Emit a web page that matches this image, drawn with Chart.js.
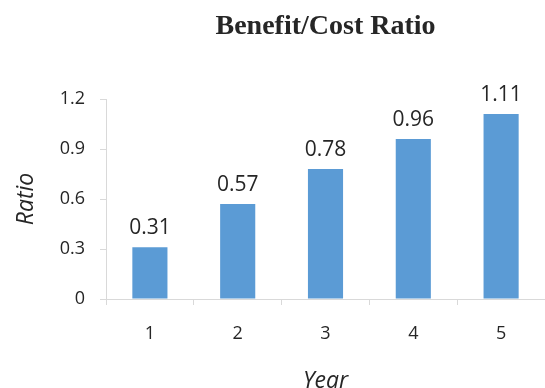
<!DOCTYPE html>
<html>
<head>
<meta charset="utf-8">
<script src="https://cdn.jsdelivr.net/npm/chart.js@4/dist/chart.umd.min.js"></script>
<style>
  html, body { margin: 0; padding: 0; background: #ffffff; }
  #wrap { width: 545px; height: 388px; }
</style>
</head>
<body>
<div id="wrap"><canvas id="c" width="545" height="388"></canvas></div>
<script>
// Benefit/cost ratio by project year
const years = ['1', '2', '3', '4', '5'];
const ratios = [0.31, 0.57, 0.78, 0.96, 1.11];
const yTickValues = [0, 0.3, 0.6, 0.9, 1.2];
const yTickLabels = ['0', '0.3', '0.6', '0.9', '1.2'];
const chartTitle = 'Benefit/Cost Ratio';

const axisGrey = '#d9d9d9';
const textColor = '#262626';
const tickFont = { family: '"Open Sans", sans-serif', size: 18 };
const axisTitleFont = { family: '"Open Sans", sans-serif', size: 23, style: 'italic' };

// Title centred over the plot area
const titlePlugin = {
  id: 'plotTitle',
  afterDraw(chart) {
    const { ctx, chartArea } = chart;
    ctx.save();
    ctx.font = 'bold 28px "Liberation Serif", "Times New Roman", serif';
    ctx.fillStyle = textColor;
    ctx.textAlign = 'center';
    ctx.textBaseline = 'alphabetic';
    ctx.fillText(chartTitle, (chartArea.left + chartArea.right) / 2, 34);
    ctx.restore();
  }
};

// Value labels above each bar
const valueLabels = {
  id: 'valueLabels',
  afterDatasetsDraw(chart) {
    const { ctx } = chart;
    const meta = chart.getDatasetMeta(0);
    ctx.save();
    ctx.font = '21px "Open Sans", sans-serif';
    ctx.fillStyle = textColor;
    ctx.textAlign = 'center';
    ctx.textBaseline = 'alphabetic';
    meta.data.forEach((bar, i) => {
      ctx.fillText(ratios[i].toFixed(2), bar.x, bar.y - 13);
    });
    ctx.restore();
  }
};

new Chart(document.getElementById('c'), {
  type: 'bar',
  data: {
    labels: years,
    datasets: [{
      data: ratios,
      backgroundColor: '#5b9bd5',
      borderWidth: 0,
      categoryPercentage: 1,
      barPercentage: 0.4
    }]
  },
  options: {
    responsive: false,
    animation: false,
    devicePixelRatio: 1,
    layout: { padding: { top: 99, right: 0, bottom: 0, left: 0 } },
    plugins: {
      legend: { display: false },
      tooltip: { enabled: false },
      title: { display: false }
    },
    scales: {
      x: {
        grid: {
          display: true,
          offset: true,
          drawOnChartArea: false,
          drawTicks: true,
          tickLength: 6,
          color: axisGrey
        },
        border: { display: true, color: axisGrey },
        ticks: { font: tickFont, color: textColor, padding: 18, maxRotation: 0 },
        title: {
          display: true,
          text: 'Year',
          font: axisTitleFont,
          color: textColor,
          padding: { top: 0, bottom: -7 }
        },
        afterFit(scale) { scale.height = 89; }
      },
      y: {
        min: 0,
        max: 1.2,
        afterBuildTicks(scale) {
          scale.ticks = yTickValues.map(v => ({ value: v }));
        },
        grid: {
          display: true,
          drawOnChartArea: false,
          drawTicks: true,
          tickLength: 6,
          color: axisGrey
        },
        border: { display: true, color: axisGrey },
        ticks: {
          font: tickFont,
          color: textColor,
          padding: 15,
          callback: (v, i) => yTickLabels[i]
        },
        title: {
          display: true,
          text: 'Ratio',
          font: axisTitleFont,
          color: textColor,
          padding: { top: 13, bottom: 0 }
        },
        afterFit(scale) { scale.width = 106; }
      }
    }
  },
  plugins: [titlePlugin, valueLabels]
});
</script>
</body>
</html>
